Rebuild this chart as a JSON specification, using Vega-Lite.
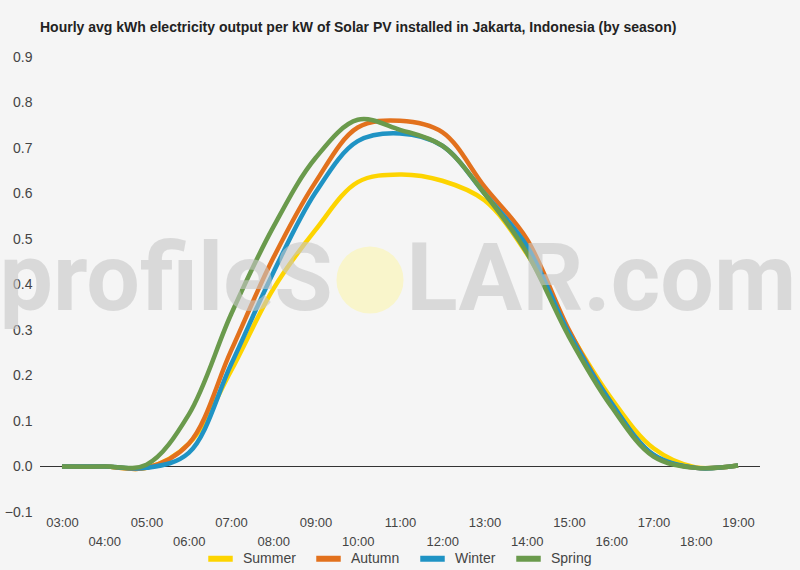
{
  "$schema": "https://vega.github.io/schema/vega-lite/v6.json",
  "width": 720,
  "height": 455,
  "autosize": "none",
  "padding": {"left": 40, "top": 57, "right": 40, "bottom": 58},
  "background": "#f5f5f5",
  "title": {
    "text": "Hourly avg kWh electricity output per kW of Solar PV installed in Jakarta, Indonesia (by season)",
    "anchor": "start",
    "frame": "group",
    "font": "Liberation Sans",
    "fontSize": 14,
    "fontWeight": "bold",
    "color": "#222222",
    "baseline": "alphabetic",
    "offset": 4
  },
  "config": {
    "view": {"stroke": null},
    "font": "Liberation Sans"
  },
  "data": {
    "values": [
      {"season": "Summer", "hour": 3, "kwh": 0},
      {"season": "Summer", "hour": 4, "kwh": 0},
      {"season": "Summer", "hour": 5, "kwh": -0.003},
      {"season": "Summer", "hour": 6, "kwh": 0.05},
      {"season": "Summer", "hour": 7, "kwh": 0.21},
      {"season": "Summer", "hour": 8, "kwh": 0.39},
      {"season": "Summer", "hour": 9, "kwh": 0.52},
      {"season": "Summer", "hour": 10, "kwh": 0.625},
      {"season": "Summer", "hour": 11, "kwh": 0.642},
      {"season": "Summer", "hour": 12, "kwh": 0.628},
      {"season": "Summer", "hour": 13, "kwh": 0.585},
      {"season": "Summer", "hour": 14, "kwh": 0.468},
      {"season": "Summer", "hour": 15, "kwh": 0.297},
      {"season": "Summer", "hour": 16, "kwh": 0.15},
      {"season": "Summer", "hour": 17, "kwh": 0.04},
      {"season": "Summer", "hour": 18, "kwh": -0.002},
      {"season": "Summer", "hour": 19, "kwh": 0.002},
      {"season": "Autumn", "hour": 3, "kwh": 0},
      {"season": "Autumn", "hour": 4, "kwh": 0},
      {"season": "Autumn", "hour": 5, "kwh": -0.003},
      {"season": "Autumn", "hour": 6, "kwh": 0.05},
      {"season": "Autumn", "hour": 7, "kwh": 0.254},
      {"season": "Autumn", "hour": 8, "kwh": 0.458},
      {"season": "Autumn", "hour": 9, "kwh": 0.625},
      {"season": "Autumn", "hour": 10, "kwh": 0.745},
      {"season": "Autumn", "hour": 11, "kwh": 0.76},
      {"season": "Autumn", "hour": 12, "kwh": 0.735},
      {"season": "Autumn", "hour": 13, "kwh": 0.615},
      {"season": "Autumn", "hour": 14, "kwh": 0.5},
      {"season": "Autumn", "hour": 15, "kwh": 0.3},
      {"season": "Autumn", "hour": 16, "kwh": 0.14},
      {"season": "Autumn", "hour": 17, "kwh": 0.025},
      {"season": "Autumn", "hour": 18, "kwh": -0.003},
      {"season": "Autumn", "hour": 19, "kwh": 0.002},
      {"season": "Winter", "hour": 3, "kwh": 0},
      {"season": "Winter", "hour": 4, "kwh": 0},
      {"season": "Winter", "hour": 5, "kwh": -0.003},
      {"season": "Winter", "hour": 6, "kwh": 0.03},
      {"season": "Winter", "hour": 7, "kwh": 0.224},
      {"season": "Winter", "hour": 8, "kwh": 0.426},
      {"season": "Winter", "hour": 9, "kwh": 0.602},
      {"season": "Winter", "hour": 10, "kwh": 0.715},
      {"season": "Winter", "hour": 11, "kwh": 0.732},
      {"season": "Winter", "hour": 12, "kwh": 0.705},
      {"season": "Winter", "hour": 13, "kwh": 0.6},
      {"season": "Winter", "hour": 14, "kwh": 0.485},
      {"season": "Winter", "hour": 15, "kwh": 0.293},
      {"season": "Winter", "hour": 16, "kwh": 0.14},
      {"season": "Winter", "hour": 17, "kwh": 0.026},
      {"season": "Winter", "hour": 18, "kwh": -0.003},
      {"season": "Winter", "hour": 19, "kwh": 0.002},
      {"season": "Spring", "hour": 3, "kwh": 0},
      {"season": "Spring", "hour": 4, "kwh": 0},
      {"season": "Spring", "hour": 5, "kwh": 0.004},
      {"season": "Spring", "hour": 6, "kwh": 0.114},
      {"season": "Spring", "hour": 7, "kwh": 0.334},
      {"season": "Spring", "hour": 8, "kwh": 0.526},
      {"season": "Spring", "hour": 9, "kwh": 0.678},
      {"season": "Spring", "hour": 10, "kwh": 0.762},
      {"season": "Spring", "hour": 11, "kwh": 0.74},
      {"season": "Spring", "hour": 12, "kwh": 0.705},
      {"season": "Spring", "hour": 13, "kwh": 0.6},
      {"season": "Spring", "hour": 14, "kwh": 0.47},
      {"season": "Spring", "hour": 15, "kwh": 0.285},
      {"season": "Spring", "hour": 16, "kwh": 0.132},
      {"season": "Spring", "hour": 17, "kwh": 0.022},
      {"season": "Spring", "hour": 18, "kwh": -0.003},
      {"season": "Spring", "hour": 19, "kwh": 0.002}
    ]
  },
  "layer": [
    {
      "data": {"values": [{}]},
      "mark": {"type": "rule", "color": "#333333", "strokeWidth": 1},
      "encoding": {"y": {"datum": 0, "type": "quantitative"}}
    },
    {
      "mark": {"type": "line", "strokeWidth": 4.5, "interpolate": "catmull-rom"},
      "encoding": {
        "x": {
          "field": "hour",
          "type": "quantitative",
          "scale": {"domain": [2.48, 19.52], "nice": false, "zero": false},
          "axis": {
            "title": null,
            "values": [3, 4, 5, 6, 7, 8, 9, 10, 11, 12, 13, 14, 15, 16, 17, 18, 19],
            "labelExpr": "datum.value % 2 == 0 ? ['', (datum.value < 10 ? '0' : '') + datum.value + ':00'] : (datum.value < 10 ? '0' : '') + datum.value + ':00'",
            "labelOverlap": false,
            "labelLineHeight": 19,
            "labelFontSize": 13,
            "labelColor": "#444444",
            "labelPadding": 4,
            "domain": false,
            "ticks": false,
            "grid": false
          }
        },
        "y": {
          "field": "kwh",
          "type": "quantitative",
          "scale": {"domain": [-0.1, 0.9], "nice": false},
          "axis": {
            "title": null,
            "values": [-0.1, -0.05, 0, 0.05, 0.1, 0.15, 0.2, 0.25, 0.3, 0.35, 0.4, 0.45, 0.5, 0.55, 0.6, 0.65, 0.7, 0.75, 0.8, 0.85, 0.9],
            "labelExpr": "abs(round(datum.value * 100)) % 10 == 5 ? '' : format(datum.value, '.1f')",
            "labelFontSize": 14,
            "labelColor": "#444444",
            "labelPadding": 8,
            "domain": false,
            "ticks": false,
            "gridColor": {
              "condition": {"test": "abs(round(datum.value * 100)) % 10 == 5", "value": "#e4e4e4"},
              "value": "#cccccc"
            }
          }
        },
        "color": {
          "field": "season",
          "type": "nominal",
          "sort": ["Summer", "Autumn", "Winter", "Spring"],
          "scale": {
            "domain": ["Summer", "Autumn", "Winter", "Spring"],
            "range": ["#fdd400", "#e2711d", "#1f93c4", "#6a9a4c"]
          },
          "legend": {
            "title": null,
            "orient": "none",
            "legendX": 165,
            "legendY": 486,
            "direction": "horizontal",
            "symbolType": "stroke",
            "symbolStrokeWidth": 6,
            "symbolSize": 600,
            "labelFontSize": 14,
            "labelColor": "#444444",
            "labelOffset": 7,
            "columnPadding": 8
          }
        }
      }
    },
    {
      "data": {"values": [{}]},
      "mark": {"type": "point", "shape": "circle", "filled": true, "size": 4500, "color": "#f9f5cb", "opacity": 1},
      "encoding": {
        "x": {"datum": 10.29, "type": "quantitative"},
        "y": {"datum": 0.41, "type": "quantitative"}
      }
    },
    {
      "data": {"values": [{}]},
      "mark": {"type": "text", "text": "profileS", "align": "right", "baseline": "alphabetic", "font": "Roboto", "fontWeight": "bold", "fontSize": 95, "color": "#c8c8c8", "opacity": 0.6},
      "encoding": {
        "x": {"datum": 9.41, "type": "quantitative"},
        "y": {"datum": 0.344, "type": "quantitative"}
      }
    },
    {
      "data": {"values": [{}]},
      "mark": {"type": "text", "text": "LAR.com", "align": "left", "baseline": "alphabetic", "font": "Roboto", "fontWeight": "bold", "fontSize": 95, "color": "#c8c8c8", "opacity": 0.6},
      "encoding": {
        "x": {"datum": 11.15, "type": "quantitative"},
        "y": {"datum": 0.344, "type": "quantitative"}
      }
    }
  ]
}
